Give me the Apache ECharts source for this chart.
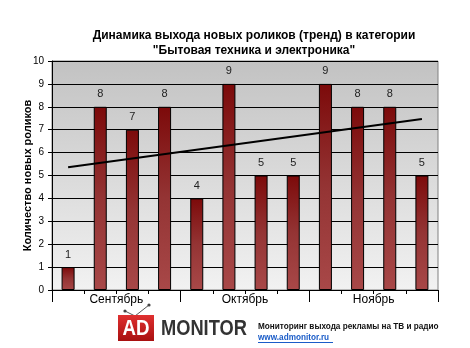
<!DOCTYPE html>
<html><head><meta charset="utf-8">
<script src="https://cdn.jsdelivr.net/npm/echarts@6/dist/echarts.min.js"></script>
<style>html,body{margin:0;padding:0;background:#fff}#c{width:470px;height:348px}</style>
</head><body><div id="c"></div>
<script>
var categories = ['1','2','3','4','5','6','7','8','9','10','11','12'];
var months = ['Сентябрь','Октябрь','Ноябрь'];
var values = [1,8,7,8,4,9,5,5,9,8,8,5];
var trendEnds = [5.36, 7.47];
var yTicks = [0,1,2,3,4,5,6,7,8,9,10];

var trend = categories.map(function(c,i){
  if (i===0) return trendEnds[0];
  if (i===categories.length-1) return trendEnds[1];
  return null;
});

var chart = echarts.init(document.getElementById('c'), null, {renderer:'canvas'});
var F = 'Liberation Sans, Arial, sans-serif';
chart.setOption({
  animation:false,
  textStyle:{fontFamily:F},
  title:{
    text:'Динамика выхода новых роликов (тренд) в категории\n"Бытовая техника и электроника"',
    left:249, top:23, textAlign:'center',
    textStyle:{fontFamily:F, fontSize:12, fontWeight:'bold', color:'#000', lineHeight:15}
  },
  grid:{left:52, right:32, top:61, bottom:58, show:true, borderColor:'#808080', borderWidth:1,
    backgroundColor:new echarts.graphic.LinearGradient(0,0,0,1,[{offset:0,color:'#c2c2c2'},{offset:1,color:'#f2f2f2'}])},
  xAxis:[{
    type:'category', data:categories, boundaryGap:true,
    axisLine:{lineStyle:{color:'#000'}},
    axisTick:{show:true, interval:0, length:4, lineStyle:{color:'#000'}},
    axisLabel:{show:false}
  },{
    type:'category', data:months, position:'bottom', boundaryGap:true,
    axisLine:{show:false},
    axisTick:{show:true, interval:0, length:12, lineStyle:{color:'#000'}},
    axisLabel:{fontFamily:F, fontSize:12, color:'#000', margin:4}
  }],
  yAxis:{
    type:'value', min:0, max:10, interval:1,
    name:'Количество новых роликов', nameLocation:'middle', nameGap:19, nameMoveOverlap:false,
    nameTextStyle:{fontFamily:F, fontSize:11, fontWeight:'bold', color:'#000'},
    axisLine:{show:true, lineStyle:{color:'#000'}},
    axisTick:{show:true, length:4, lineStyle:{color:'#000'}},
    axisLabel:{fontFamily:F, fontSize:10, color:'#000', margin:8},
    splitLine:{show:true, lineStyle:{color:'#000', width:1}}
  },
  series:[{
    type:'bar', data:values, barWidth:13, xAxisIndex:0,
    itemStyle:{borderColor:'#000', borderWidth:1,
      color:new echarts.graphic.LinearGradient(0,0,0,1,[{offset:0,color:'#7c0a0a'},{offset:0.5,color:'#943434'},{offset:1,color:'#a84848'}])},
    label:{show:true, position:'top', distance:7, fontFamily:F, fontSize:11, color:'#222'}
  },{
    type:'line', data:trend, connectNulls:true, xAxisIndex:0, symbol:'none',
    lineStyle:{color:'#000', width:2}, z:5
  }],
  graphic:[
    {type:'line', shape:{x1:135,y1:316,x2:125,y2:311}, style:{stroke:'#555', lineWidth:1}},
    {type:'line', shape:{x1:135,y1:316,x2:149,y2:305}, style:{stroke:'#555', lineWidth:1}},
    {type:'circle', shape:{cx:125,cy:311,r:1.6}, style:{fill:'#444'}},
    {type:'circle', shape:{cx:149,cy:305,r:1.6}, style:{fill:'#444'}},
    {type:'rect', shape:{x:118,y:315,width:36,height:26}, style:{fill:new echarts.graphic.LinearGradient(0,0,0,1,[{offset:0,color:'#e03030'},{offset:1,color:'#a81010'}])}},
    {type:'text', x:136, y:329, scaleX:0.85, style:{text:'AD', x:0, y:0, align:'center', verticalAlign:'middle', font:'bold 22px '+F, fill:'#fff'}},
    {type:'text', x:161, y:329, scaleX:0.83, style:{text:'MONITOR', x:0, y:0, align:'left', verticalAlign:'middle', font:'bold 22px '+F, fill:'#333'}},
    {type:'text', style:{text:'Мониторинг выхода рекламы на ТВ и радио', x:258, y:327, align:'left', verticalAlign:'middle', font:'bold 8.2px '+F, fill:'#111'}},
    {type:'text', style:{text:'www.admonitor.ru', x:258, y:338, align:'left', verticalAlign:'middle', font:'bold 8.2px '+F, fill:'#1a5cc8'}},
    {type:'line', shape:{x1:258,y1:342.5,x2:333,y2:342.5}, style:{stroke:'#1a5cc8', lineWidth:1}}
  ]
});
</script></body></html>
